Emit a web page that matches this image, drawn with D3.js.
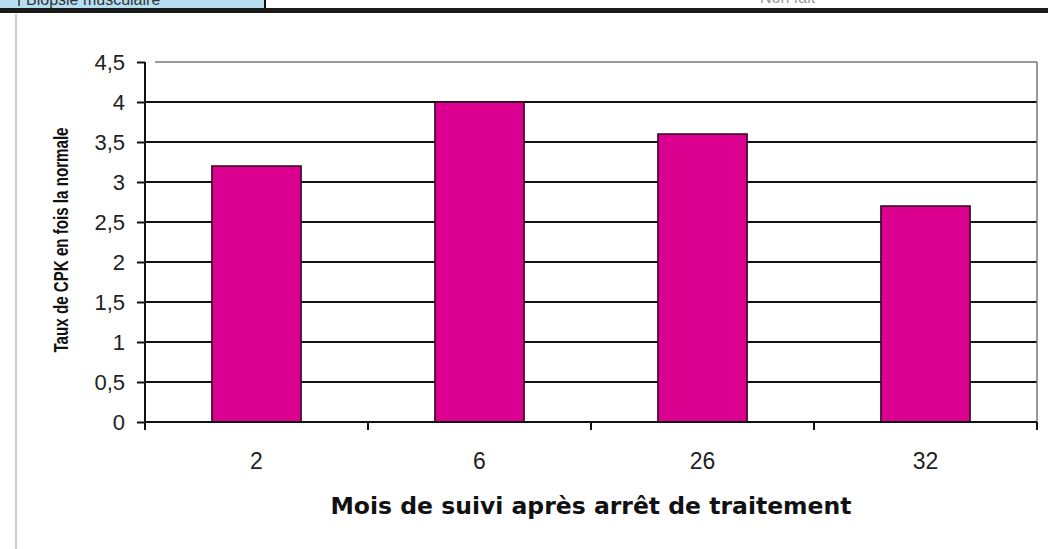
<!DOCTYPE html>
<html>
<head>
<meta charset="utf-8">
<script src="https://cdn.jsdelivr.net/npm/d3@7"></script>
<style>
  body { margin: 0; background: #fff; }
  svg { display: block; }
</style>
</head>
<body>
<div id="chartdiv"></div>
<script>
var months = ["2", "6", "26", "32"];
var cpkValues = [3.2, 4.0, 3.6, 2.7];
var yTicks = [0, 0.5, 1, 1.5, 2, 2.5, 3, 3.5, 4, 4.5];

var W = 1048, H = 549;
var margin = { top: 62, right: 11, bottom: 127, left: 145 };
var width = W - margin.left - margin.right,
    height = H - margin.top - margin.bottom;

var svg = d3.select("#chartdiv").append("svg")
    .attr("width", W)
    .attr("height", H);

// bits of the scanned page above the chart
svg.append("rect").attr("x", 0).attr("y", 0).attr("width", 265).attr("height", 8).attr("fill", "#b4dff0");
svg.append("line").attr("x1", 19).attr("x2", 19).attr("y1", 0).attr("y2", 6).attr("stroke", "#333").attr("stroke-width", 1.5);
svg.append("line").attr("x1", 265).attr("x2", 265).attr("y1", 0).attr("y2", 9).attr("stroke", "#111").attr("stroke-width", 2);
svg.append("text").attr("x", 26).attr("y", 5).attr("font-family", "Liberation Sans, Arial").attr("font-size", 16).attr("fill", "#333").text("Biopsie musculaire");
svg.append("text").attr("x", 760).attr("y", 3).attr("font-family", "Liberation Sans, Arial").attr("font-size", 16).attr("fill", "#999").text("Non fait");
svg.append("rect").attr("x", 0).attr("y", 8).attr("width", W).attr("height", 5).attr("fill", "#1a1a1a");
svg.append("rect").attr("x", 0).attr("y", 13).attr("width", W).attr("height", 4).attr("fill", "#fff");
svg.append("line").attr("x1", 16).attr("x2", 16).attr("y1", 14).attr("y2", H).attr("stroke", "#ccc").attr("stroke-width", 2);

var g = svg.append("g").attr("transform", "translate(" + margin.left + "," + margin.top + ")");

var xScale = d3.scaleBand()
    .domain(months)
    .range([0, width])
    .paddingInner(0.6)
    .paddingOuter(0.3);

var yScale = d3.scaleLinear()
    .domain([0, 4.5])
    .range([height, 0]);

// gridlines
g.append("g").selectAll("line")
    .data(yTicks.filter(function(d) { return d > 0; }))
    .enter().append("line")
    .attr("x1", function(d) { return d === 4.5 ? 10 : 0; })
    .attr("x2", width)
    .attr("y1", function(d) { return yScale(d); })
    .attr("y2", function(d) { return yScale(d); })
    .attr("stroke", function(d) { return d === 4.5 ? "#999" : "#111"; })
    .attr("stroke-width", 2);

// right border of plot area
g.append("line")
    .attr("x1", width).attr("x2", width)
    .attr("y1", 0).attr("y2", height)
    .attr("stroke", "#777").attr("stroke-width", 1.5);

// bars
g.append("g").selectAll("rect")
    .data(cpkValues)
    .enter().append("rect")
    .attr("x", function(d, i) { return xScale(months[i]); })
    .attr("y", function(d) { return yScale(d); })
    .attr("width", xScale.bandwidth())
    .attr("height", function(d) { return height - yScale(d); })
    .attr("fill", "#dc0090")
    .attr("stroke", "#2a0a1c")
    .attr("stroke-width", 1.5);

// y axis
var yAxis = d3.axisLeft(yScale)
    .tickValues(yTicks)
    .tickSize(8)
    .tickPadding(12)
    .tickFormat(function(d) { return String(d).replace(".", ","); });

var yg = g.append("g").call(yAxis);
yg.select(".domain").attr("stroke", "#111").attr("stroke-width", 2).attr("d", "M0,0V" + (height + 8));
yg.selectAll(".tick line").attr("stroke", "#111").attr("stroke-width", 2);
yg.selectAll(".tick text")
    .attr("font-family", "Liberation Sans, Arial, sans-serif")
    .attr("font-size", 22)
    .attr("fill", "#222");

// x axis: ticks sit between categories
var xAxis = d3.axisBottom(xScale).tickSize(0).tickPadding(31);
var xg = g.append("g").attr("transform", "translate(0," + height + ")").call(xAxis);
xg.select(".domain").attr("stroke", "#111").attr("stroke-width", 2).attr("d", "M0,0H" + width);
xg.selectAll(".tick text")
    .attr("font-family", "Liberation Sans, Arial, sans-serif")
    .attr("font-size", 23)
    .attr("fill", "#222");
xg.selectAll(".sep")
    .data(months)
    .enter().append("line")
    .attr("class", "sep")
    .attr("x1", function(d) { return xScale(d) + xScale.bandwidth() / 2 + xScale.step() / 2; })
    .attr("x2", function(d) { return xScale(d) + xScale.bandwidth() / 2 + xScale.step() / 2; })
    .attr("y1", 0).attr("y2", 8)
    .attr("stroke", "#111").attr("stroke-width", 2);

// axis titles
svg.append("text")
    .attr("transform", "translate(68," + 240 + ") rotate(-90)")
    .attr("text-anchor", "middle")
    .attr("font-family", "Liberation Sans, Arial, sans-serif")
    .attr("font-weight", "bold")
    .attr("font-size", 20)
    .attr("textLength", 225)
    .attr("lengthAdjust", "spacingAndGlyphs")
    .attr("fill", "#111")
    .text("Taux de CPK en fois la normale");

svg.append("text")
    .attr("x", 591)
    .attr("y", 514)
    .attr("text-anchor", "middle")
    .attr("font-family", "DejaVu Sans, Verdana, sans-serif")
    .attr("font-weight", "bold")
    .attr("font-size", 23.5)
    .attr("fill", "#111")
    .text("Mois de suivi après arrêt de traitement");
</script>
</body>
</html>
